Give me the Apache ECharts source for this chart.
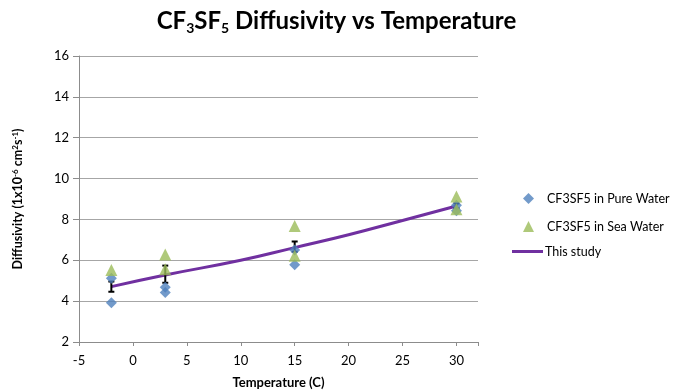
<!DOCTYPE html>
<html>
<head>
<meta charset="utf-8">
<script src="https://cdn.jsdelivr.net/npm/echarts@6/dist/echarts.min.js"></script>
<style>
  html, body { margin: 0; padding: 0; background: #fff; }
  #chart { width: 673px; height: 391px; }
</style>
</head>
<body>
<div id="chart"></div>
<script>
// values
let pureWater = [[-2, 5.12], [-2, 3.92], [3, 4.68], [3, 4.42], [15, 6.5], [15, 5.78], [30, 8.7], [30, 8.43]];
let seaWater = [[-2, 5.52], [3, 6.28], [3, 5.56], [15, 7.68], [15, 6.22], [30, 9.12], [30, 8.5]];
let studyLine = [[-2, 4.71], [3, 5.28], [10, 6.0], [15, 6.62], [20, 7.25], [25, 7.95], [30, 8.66]];
// error bars: temperature, low, high
let errorBars = [[-2, 4.46, 4.96], [3, 4.9, 5.74], [15, 6.42, 6.92], [30, 8.56, 8.78]];

let font = "Lato, 'Open Sans', sans-serif";
let chart = echarts.init(document.getElementById("chart"));
chart.setOption({
  backgroundColor: "#fff",
  animation: false,
  title: {
    text: "{a|CF}{s|3}{a|SF}{s|5}{a| Diffusivity vs Temperature}",
    left: "center",
    top: 3,
    textStyle: {
      rich: {
        a: { fontFamily: font, fontWeight: "bold", fontSize: 24, color: "#000" },
        s: { fontFamily: font, fontWeight: "bold", fontSize: 14, color: "#000", padding: [13, 0, 0, 0] },
      },
    },
  },
  grid: { left: 79, right: 195, top: 56, bottom: 49, outerBoundsMode: "none" },
  legend: [
    {
      orient: "vertical",
      left: 518,
      top: 187,
      itemGap: 15,
      itemWidth: 11,
      itemHeight: 11,
      textStyle: { fontFamily: font, fontSize: 12.5, color: "#000", padding: [0, 0, 0, 8] },
      data: [
        { name: "CF3SF5 in Pure Water", icon: "diamond" },
        { name: "CF3SF5 in Sea Water", icon: "triangle" },
      ],
    },
    {
      left: 507,
      top: 240,
      itemWidth: 31,
      itemHeight: 3,
      itemGap: 0,
      textStyle: { fontFamily: font, fontSize: 12.5, color: "#000", padding: [0, 0, 0, -3] },
      data: [{ name: "This study", icon: "rect" }],
    },
  ],
  xAxis: {
    type: "value",
    min: -5,
    max: 32,
    interval: 5,
    name: "Temperature (C)",
    nameLocation: "middle",
    nameGap: 34,
    nameTextStyle: { fontFamily: font, fontWeight: "bold", fontSize: 13, color: "#000" },
    axisLine: { onZero: false, lineStyle: { color: "#8c8c8c" } },
    axisTick: { show: true, length: 4, lineStyle: { color: "#8c8c8c" } },
    axisLabel: {
      fontFamily: font, fontSize: 13, color: "#000", margin: 12,
      formatter: function (v) { return v % 5 === 0 ? String(v) : ""; },
    },
    splitLine: { show: false },
  },
  yAxis: {
    type: "value",
    min: 2,
    max: 16,
    interval: 2,
    name: "{a|Diffusivity (1x10}{p|-6}{a| cm}{p|2}{a|s}{p|-1}{a|)}",
    nameLocation: "middle",
    nameGap: 54,
    nameTextStyle: {
      rich: {
        a: { fontFamily: font, fontWeight: "bold", fontSize: 12.5, color: "#000" },
        p: { fontFamily: font, fontWeight: "bold", fontSize: 8, color: "#000", padding: [0, 0, 6, 0] },
      },
    },
    axisLine: { show: true, onZero: false, lineStyle: { color: "#8c8c8c" } },
    axisTick: { show: true, length: 6, lineStyle: { color: "#8c8c8c" } },
    axisLabel: { fontFamily: font, fontSize: 13, color: "#000", margin: 10 },
    splitLine: { lineStyle: { color: "#a6a6a6" } },
  },
  series: [
    {
      name: "This study",
      type: "line",
      data: studyLine,
      smooth: true,
      showSymbol: false,
      symbol: "none",
      z: 3,
      itemStyle: { color: "#7030a0" },
      lineStyle: { color: "#7030a0", width: 3 },
    },
    {
      name: "errors",
      type: "custom",
      data: errorBars,
      z: 4,
      renderItem: function (params, api) {
        let x = api.value(0);
        let lo = api.coord([x, api.value(1)]);
        let hi = api.coord([x, api.value(2)]);
        let w = 3;
        let st = { stroke: "#000", lineWidth: 2 };
        return {
          type: "group",
          children: [
            { type: "line", shape: { x1: lo[0], y1: lo[1], x2: hi[0], y2: hi[1] }, style: st },
            { type: "line", shape: { x1: lo[0] - w, y1: lo[1], x2: lo[0] + w, y2: lo[1] }, style: st },
            { type: "line", shape: { x1: hi[0] - w, y1: hi[1], x2: hi[0] + w, y2: hi[1] }, style: st },
          ],
        };
      },
    },
    {
      name: "CF3SF5 in Pure Water",
      type: "scatter",
      data: pureWater,
      symbol: "diamond",
      symbolSize: 11,
      z: 5,
      itemStyle: { color: "#4f81bd" },
    },
    {
      name: "CF3SF5 in Sea Water",
      type: "scatter",
      data: seaWater,
      symbol: "triangle",
      symbolSize: 12,
      z: 6,
      itemStyle: { color: "#9bbb59" },
    },
  ],
});
</script>
</body>
</html>
